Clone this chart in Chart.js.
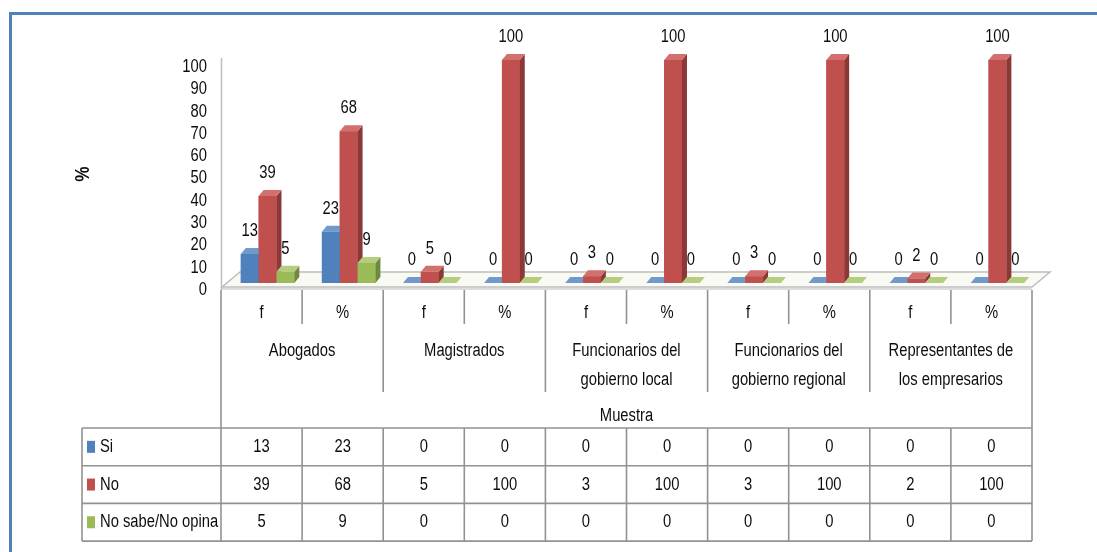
<!DOCTYPE html>
<html>
<head>
<meta charset="utf-8">
<script src="https://cdn.jsdelivr.net/npm/chart.js@4.4.0/dist/chart.umd.min.js"></script>
<style>
  html, body { margin: 0; padding: 0; background: #fff; }
  #wrap { position: relative; width: 1097px; height: 552px; }
</style>
</head>
<body>
<div id="wrap"><canvas id="chart" width="1097" height="552"></canvas></div>
<script>
// Muestra: grupos y sub-columnas (f / %)
const groupNames = ['Abogados', 'Magistrados', ['Funcionarios del', 'gobierno local'], ['Funcionarios del', 'gobierno regional'], ['Representantes de', 'los empresarios']];
const categories = ['f', '%', 'f', '%', 'f', '%', 'f', '%', 'f', '%'];

const seriesNames = ['Si', 'No', 'No sabe/No opina'];
const siValues   = [13, 23, 0, 0, 0, 0, 0, 0, 0, 0];
const noValues   = [39, 68, 5, 100, 3, 100, 3, 100, 2, 100];
const nsnoValues = [5, 9, 0, 0, 0, 0, 0, 0, 0, 0];

const yTicks = [0, 10, 20, 30, 40, 50, 60, 70, 80, 90, 100];

const FONT = "'Liberation Sans', Arial, sans-serif";
const NARROW = 0.82;   // letra estrecha tipo Calibri
const colors = [
  { front: '#4F81BD', side: '#385D8A', top: '#7199CB' },
  { front: '#C0504D', side: '#8C3836', top: '#D2706D' },
  { front: '#9BBB59', side: '#71893F', top: '#B4CE7E' }
];
const DEPTH_X = 5, DEPTH_Y = -6;   // caras laterales 3D
const SHIFT_X = 6, SHIFT_Y = -7;   // barras un poco hacia el fondo

function text(ctx, s, x, y, align, font) {
  ctx.save();
  ctx.translate(x, y);
  ctx.scale(NARROW, 1);
  ctx.font = (font || '18px') + ' ' + FONT;
  ctx.textAlign = align || 'center';
  ctx.textBaseline = 'middle';
  ctx.fillStyle = '#0d0d0d';
  ctx.fillText(s, 0, 0);
  ctx.restore();
}

/* ===== barras 3D ===== */
const bars3d = {
  id: 'bars3d',
  beforeDatasetsDraw(chart) {
    const { ctx, chartArea: a } = chart;
    ctx.save();
    // piso
    ctx.beginPath();
    ctx.moveTo(a.left + 1, a.bottom - 3);
    ctx.lineTo(a.right, a.bottom - 3);
    ctx.lineTo(a.right + 18, a.bottom - 18);
    ctx.lineTo(a.left + 19, a.bottom - 18);
    ctx.closePath();
    ctx.fillStyle = '#f9faf3';
    ctx.fill();
    ctx.strokeStyle = '#bdbdbd';
    ctx.lineWidth = 1.5;
    ctx.stroke();
    ctx.beginPath();
    ctx.moveTo(a.left, a.bottom - 1);
    ctx.lineTo(a.right, a.bottom - 1);
    ctx.strokeStyle = '#d0d0d0';
    ctx.stroke();
    // eje vertical
    ctx.beginPath();
    ctx.moveTo(a.left + 0.5, a.top - 9);
    ctx.lineTo(a.left + 0.5, a.bottom);
    ctx.strokeStyle = '#bdbdbd';
    ctx.stroke();
    ctx.restore();
    // etiquetas del eje y
    const ys = chart.scales.y;
    yTicks.forEach(v => text(ctx, String(v), 207, ys.getPixelForValue(v), 'right'));
    // las barras van corridas hacia el fondo del piso
    ctx.save();
    ctx.translate(SHIFT_X, SHIFT_Y);
  },
  afterDatasetsDraw(chart) {
    const { ctx } = chart;
    const metas = chart.data.datasets.map((d, i) => chart.getDatasetMeta(i));
    // por categoría, de izquierda a derecha: frente, lado y tapa
    categories.forEach((c, j) => {
      metas.forEach((meta, i) => {
        const col = colors[i];
        const p = meta.data[j].getProps(['x', 'y', 'base', 'width'], true);
        const l = p.x - p.width / 2, r = p.x + p.width / 2;
        ctx.fillStyle = col.front;
        ctx.fillRect(l, p.y, p.width, p.base - p.y);
        ctx.beginPath();
        ctx.moveTo(r, p.y);
        ctx.lineTo(r + DEPTH_X, p.y + DEPTH_Y);
        ctx.lineTo(r + DEPTH_X, p.base + DEPTH_Y);
        ctx.lineTo(r, p.base);
        ctx.closePath();
        ctx.fillStyle = col.side;
        ctx.fill();
        ctx.beginPath();
        ctx.moveTo(l, p.y);
        ctx.lineTo(l + DEPTH_X, p.y + DEPTH_Y);
        ctx.lineTo(r + DEPTH_X, p.y + DEPTH_Y);
        ctx.lineTo(r, p.y);
        ctx.closePath();
        ctx.fillStyle = col.top;
        ctx.fill();
      });
    });
    // etiquetas de valor
    chart.data.datasets.forEach((ds, i) => {
      metas[i].data.forEach((el, j) => text(ctx, String(ds.data[j]), el.x, el.y - 23));
    });
    ctx.restore();
  }
};

/* ===== tabla de datos y eje de categorías ===== */
const dataTable = {
  id: 'dataTable',
  afterDraw(chart) {
    const { ctx, chartArea: a } = chart;
    const xs = chart.scales.x;
    const colW = xs.getPixelForValue(1) - xs.getPixelForValue(0);
    const edge = i => a.left + colW * i;
    const tableTop = 428, rowH = 37.7, tableLeft = 82;
    const tableBottom = tableTop + rowH * 3;

    ctx.save();
    ctx.strokeStyle = '#929292';
    ctx.lineWidth = 1.6;
    const line = (x1, y1, x2, y2) => { ctx.beginPath(); ctx.moveTo(x1, y1); ctx.lineTo(x2, y2); ctx.stroke(); };

    // eje de categorías multinivel
    line(a.left, a.bottom, a.left, tableTop);
    line(a.right, a.bottom, a.right, tableTop);
    for (let i = 1; i < categories.length; i++) {
      line(edge(i), a.bottom, edge(i), i % 2 ? 324 : 392);
    }
    categories.forEach((c, i) => text(ctx, c, xs.getPixelForValue(i), 313));
    groupNames.forEach((g, k) => {
      const cx = edge(2 * k + 1);
      const lines = Array.isArray(g) ? g : [g];
      lines.forEach((t, n) => text(ctx, t, cx, 351 + n * 29));
    });
    text(ctx, 'Muestra', (a.left + a.right) / 2, 416);

    // tabla
    for (let r = 0; r <= 3; r++) line(tableLeft, tableTop + rowH * r, a.right, tableTop + rowH * r);
    line(tableLeft, tableTop, tableLeft, tableBottom);
    for (let i = 0; i <= categories.length; i++) line(edge(i), tableTop, edge(i), tableBottom);

    chart.data.datasets.forEach((ds, r) => {
      const cy = tableTop + rowH * (r + 0.5);
      ctx.fillStyle = colors[r].front;
      ctx.fillRect(tableLeft + 5, cy - 6, 8, 12);
      text(ctx, ds.label, tableLeft + 18, cy, 'left');
      ds.data.forEach((v, j) => text(ctx, String(v), xs.getPixelForValue(j), cy));
    });

    // título del eje y
    ctx.save();
    ctx.translate(83, 174);
    ctx.rotate(-Math.PI / 2);
    text(ctx, '%', 0, 0, 'center', 'bold 21px');
    ctx.restore();

    // marco
    ctx.strokeStyle = '#4F81BD';
    ctx.lineWidth = 3;
    ctx.beginPath();
    ctx.moveTo(10.5, 552);
    ctx.lineTo(10.5, 13.5);
    ctx.lineTo(1097, 13.5);
    ctx.stroke();
    ctx.restore();
  }
};

new Chart(document.getElementById('chart'), {
  type: 'bar',
  data: {
    labels: categories,
    datasets: [
      { label: seriesNames[0], data: siValues,   backgroundColor: colors[0].front, clip: false },
      { label: seriesNames[1], data: noValues,   backgroundColor: colors[1].front, clip: false },
      { label: seriesNames[2], data: nsnoValues, backgroundColor: colors[2].front, clip: false }
    ]
  },
  options: {
    responsive: false,
    animation: false,
    categoryPercentage: 0.66,
    barPercentage: 1.0,
    layout: { padding: { top: 67, right: 65, bottom: 262, left: 0 } },
    plugins: { legend: { display: false }, tooltip: { enabled: false } },
    scales: {
      x: { display: false },
      y: {
        min: 0, max: 100,
        afterFit: s => { s.width = 221; },
        grid: { display: false, drawTicks: false },
        border: { display: false },
        ticks: { display: false, stepSize: 10 }
      }
    }
  },
  plugins: [bars3d, dataTable]
});
</script>
</body>
</html>
